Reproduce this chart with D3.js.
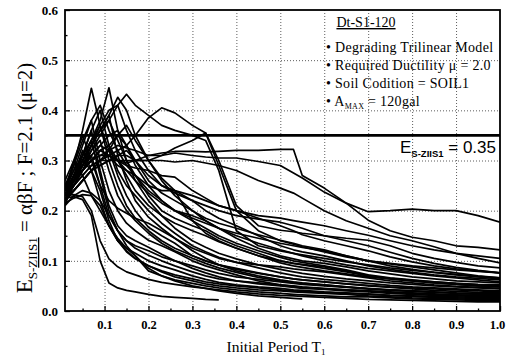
<!DOCTYPE html>
<html>
<head>
<meta charset="utf-8">
<script src="https://cdn.jsdelivr.net/npm/d3@7"></script>
<style>
  html, body { margin: 0; padding: 0; background: #fff; }
  #chart { width: 506px; height: 360px; overflow: hidden; }
  .gridLine line { stroke: #333; stroke-width: 0.8; stroke-dasharray: 1,2; }
  .gridLine path { display: none; }
  .axis path { display: none; }
  .axis line { stroke: #000; stroke-width: 1.3; }
  .axis text { font-family: "Liberation Serif", "Times New Roman", serif; fill: #000; }
  .spectrum { fill: none; stroke: #000; stroke-width: 1.7; stroke-linejoin: round; }
</style>
</head>
<body>
<div id="chart"></div>
<script>
// initial period T1 (s) at which every spectrum is sampled
const periods = [0.01, 0.03, 0.05, 0.07, 0.09, 0.11, 0.13, 0.15, 0.17, 0.2, 0.23, 0.26, 0.3, 0.33, 0.36,
  0.4, 0.45, 0.5, 0.53, 0.55, 0.6, 0.65, 0.7, 0.75, 0.8, 0.85, 0.9, 0.95, 1.0];

const _ = null; // record not computed at this period

// E_S-ZIIS1 for each ground motion record
const spectra = [
  [.225,.228,.222,.19,.10,.056,.046,.041,.038,.033,.029,.027,.025,.023,.022,_,_,_,_,_,_,_,_,_,_,_,_,_,_],
  [.23,.232,.228,.20,.14,.104,.088,.078,.072,.063,.057,.053,.048,.045,.042,.038,.034,.031,.030,.029,.027,.025,.023,.022,.021,.020,.019,.018,.018],
  [.215,.225,.232,.23,.21,.17,.14,.118,.104,.09,.08,.072,.064,.058,.054,.05,.046,.042,.04,.039,.037,.035,.033,.031,.03,.029,.028,.027,.026],
  [.24,.29,.36,.444,.37,.30,.25,.21,.185,.16,.14,.125,.11,.10,.092,.083,.075,.068,.064,.062,.058,.054,.051,.048,.046,.044,.042,.040,.038],
  [.23,.26,.30,.34,.38,.445,.36,.30,.26,.22,.19,.165,.14,.127,.115,.104,.092,.083,.078,.075,.069,.064,.060,.056,.053,.050,.048,.046,.044],
  [.22,.25,.28,.32,.35,.38,.41,.432,.41,.39,.37,.36,.35,.34,.28,.16,.13,.12,.115,.112,.105,.098,.092,.086,.081,.077,.073,.069,.066],
  [.23,.24,.26,.28,.30,.31,.32,.33,.35,.385,.405,.395,.37,.355,.29,.20,.16,.14,.133,.128,.118,.108,.10,.095,.09,.086,.082,.079,.076],
  [.24,.27,.30,.33,.36,.39,.426,.40,.35,.30,.26,.23,.20,.18,.165,.15,.135,.122,.115,.11,.10,.092,.085,.08,.075,.07,.066,.062,.058],
  [.24,.26,.28,.30,.31,.32,.33,.325,.32,.31,.31,.315,.31,.307,.305,.305,.298,.29,.275,.265,.237,.215,.198,.20,.203,.20,.20,.19,.177],
  [.23,.25,.27,.29,.30,.31,.30,.295,.30,.31,.315,.318,.318,.317,.318,.32,.32,.322,.322,.27,.245,.215,.181,.16,.147,.14,.13,.127,.122],
  [.25,.29,.34,.38,.41,.36,.32,.29,.27,.24,.22,.20,.18,.165,.15,.135,.12,.107,.10,.097,.09,.082,.072,.066,.062,.058,.055,.052,.05],
  [.23,.27,.31,.36,.40,.33,.28,.25,.23,.20,.175,.155,.13,.118,.107,.097,.086,.076,.071,.068,.063,.059,.055,.051,.048,.046,.044,.042,.04],
  [.22,.25,.29,.33,.36,.39,.31,.26,.22,.187,.165,.145,.12,.105,.092,.08,.07,.062,.058,.056,.052,.048,.045,.042,.04,.038,.036,.035,.034],
  [.24,.28,.33,.38,.30,.24,.20,.175,.16,.141,.13,.118,.10,.09,.082,.072,.06,.052,.049,.047,.044,.042,.04,.038,.036,.034,.032,.031,.03],
  [.23,.26,.30,.33,.37,.32,.27,.23,.20,.167,.15,.135,.11,.10,.092,.085,.076,.068,.064,.062,.058,.054,.05,.047,.044,.041,.039,.037,.036],
  [.22,.26,.31,.36,.28,.21,.17,.15,.14,.127,.113,.10,.085,.076,.068,.06,.054,.05,.047,.045,.043,.04,.038,.035,.033,.031,.03,.029,.028],
  [.24,.26,.28,.30,.32,.33,.35,.33,.30,.26,.235,.22,.20,.185,.175,.165,.152,.141,.135,.13,.122,.11,.10,.094,.088,.082,.076,.07,.066],
  [.23,.26,.29,.32,.34,.28,.23,.20,.18,.155,.135,.12,.105,.095,.086,.077,.067,.06,.057,.055,.052,.048,.044,.041,.039,.037,.035,.033,.032],
  [.24,.26,.28,.30,.32,.33,.30,.27,.24,.21,.19,.175,.16,.15,.138,.125,.11,.096,.09,.087,.08,.074,.068,.064,.06,.056,.053,.05,.048],
  [.23,.27,.32,.28,.22,.17,.14,.125,.115,.10,.09,.082,.07,.063,.057,.052,.048,.045,.042,.041,.038,.036,.034,.031,.029,.027,.026,.025,.024],
  [.24,.27,.29,.31,.25,.19,.16,.14,.125,.111,.10,.09,.078,.07,.064,.06,.056,.052,.05,.048,.045,.042,.04,.037,.035,.033,.032,.031,.03],
  [.22,.24,.26,.28,.29,.30,.31,.31,.30,.30,.31,.325,.34,.355,.30,.21,.17,.161,.158,.155,.15,.145,.141,.13,.115,.105,.097,.09,.086],
  [.23,.25,.27,.29,.30,.30,.30,.30,.30,.30,.30,.297,.30,.295,.29,.28,.26,.245,.235,.225,.20,.18,.165,.15,.14,.128,.115,.105,.096],
  [.24,.26,.28,.30,.31,.31,.30,.29,.285,.28,.27,.267,.24,.225,.21,.20,.19,.185,.18,.177,.17,.16,.151,.14,.13,.122,.115,.11,.105],
  [.22,.25,.28,.30,.32,.31,.29,.28,.27,.25,.24,.24,.22,.21,.20,.19,.183,.177,.17,.165,.15,.14,.13,.117,.105,.095,.087,.081,.076],
  [.23,.26,.29,.31,.33,.32,.30,.28,.26,.235,.215,.20,.185,.175,.165,.155,.145,.135,.13,.127,.12,.11,.10,.09,.083,.077,.072,.068,.064],
  [.24,.30,.35,.30,.25,.22,.205,.195,.185,.175,.16,.145,.125,.115,.105,.097,.092,.088,.084,.082,.078,.072,.066,.06,.056,.052,.049,.047,.045],
  [.21,.26,.30,.28,.24,.18,.14,.12,.105,.09,.078,.068,.06,.054,.05,.046,.042,.04,.038,.037,.035,.033,.03,.028,.026,.025,.024,.023,.022],
  [.23,.26,.29,.33,.36,.38,.34,.30,.27,.23,.20,.185,.17,.16,.145,.13,.115,.10,.095,.092,.085,.078,.07,.065,.061,.058,.055,.053,.052],
  [.24,.26,.28,.31,.33,.35,.36,.33,.29,.25,.22,.20,.19,.18,.165,.145,.125,.11,.104,.10,.095,.088,.08,.074,.068,.064,.06,.058,.056],
  [.22,.24,.26,.28,.29,.30,.31,.32,.30,.27,.25,.24,.23,.22,.21,.20,.185,.17,.16,.152,.14,.13,.12,.108,.098,.09,.084,.08,.076],
  [.23,.27,.31,.34,.27,.20,.16,.14,.13,.12,.108,.10,.09,.082,.075,.068,.063,.058,.055,.053,.05,.047,.044,.042,.04,.038,_,_,_],
  [.22,.24,.26,.28,.30,.32,.35,.37,.34,.30,.265,.24,.18,.155,.14,.125,.11,.10,.095,.093,.088,.08,.07,.064,.06,.056,.053,.05,.048],
  [.25,.28,.31,.34,.37,.40,.41,.36,.32,.28,.25,.235,.22,.20,.185,.17,.15,.13,.122,.118,.11,.10,.09,.083,.077,.072,.068,.065,.062],
  [.26,.30,.27,.23,.20,.17,.145,.125,.11,.08,.07,.062,.055,.05,.046,.042,.038,.035,.033,.032,.03,.028,.028,.026,.024,.023,.022,.021,.02],
  [.21,.23,.24,.235,.22,.19,.16,.13,.11,.085,.07,.06,.05,.045,.04,.035,.03,.027,.025,.024,_,_,_,_,_,_,_,_,_]
];

const xTicks = [0.1, 0.2, 0.3, 0.4, 0.5, 0.6, 0.7, 0.8, 0.9, 1.0];
const xMinorTicks = [0.05, 0.15, 0.25, 0.35, 0.45, 0.55, 0.65, 0.75, 0.85, 0.95];
const yTicks = [0.0, 0.1, 0.2, 0.3, 0.4, 0.5, 0.6];
const yMinorTicks = [0.05, 0.15, 0.25, 0.35, 0.45, 0.55];
const limitValue = 0.35;

const legendTitle = "Dt-S1-120";
const legendItems = ["Degrading Trilinear Model", "Required Ductility \u03bc = 2.0", "Soil Codition = SOIL1"];

const width = 506;
const height = 360;
const padding = { top: 10, right: 6, bottom: 49, left: 65 };
const serif = '"Liberation Serif", "Times New Roman", serif';
const sans = '"Liberation Sans", Arial, sans-serif';

let svg, xscale, yscale;

initSvg();
initScale();
drawGridLines();
drawSpectra();
drawAxis();
drawLabels();

function initSvg() {
  svg = d3.select("#chart")
    .append("svg")
    .attr("width", width)
    .attr("height", height);
}

function initScale() {
  xscale = d3.scaleLinear()
    .domain([0.01, 1.0])
    .range([padding.left, width - padding.right]);
  yscale = d3.scaleLinear()
    .domain([0, 0.6])
    .range([height - padding.bottom, padding.top]);   // reversed
}

function drawGridLines() {
  const plotH = yscale(0) - yscale(0.6);
  const plotW = xscale(1.0) - xscale(0.01);

  svg.append("g")
    .classed("gridLine", true)
    .attr("transform", "translate(0," + yscale(0) + ")")
    .call(d3.axisBottom(xscale).tickValues(xTicks.slice(0, -1)).tickSize(-plotH).tickFormat(""));

  svg.append("g")
    .classed("gridLine", true)
    .attr("transform", "translate(" + xscale(0.01) + ",0)")
    .call(d3.axisLeft(yscale).tickValues(yTicks.slice(1, -1)).tickSize(-plotW).tickFormat(""));
}

function drawSpectra() {
  svg.append("clipPath").attr("id", "plotClip")
    .append("rect")
    .attr("x", xscale(0.01)).attr("y", yscale(0.6))
    .attr("width", xscale(1.0) - xscale(0.01))
    .attr("height", yscale(0) - yscale(0.6));

  const line = d3.line()
    .x(d => xscale(d[0]))
    .y(d => yscale(d[1]));

  svg.append("g")
    .attr("clip-path", "url(#plotClip)")
    .selectAll("path")
    .data(spectra)
    .enter()
    .append("path")
    .attr("class", "spectrum")
    .attr("d", vals => line(periods.map((t, i) => [t, vals[i]]).filter(p => p[1] !== null)));

  // required level line
  svg.append("line")
    .attr("x1", xscale(0.01)).attr("x2", xscale(1.0))
    .attr("y1", yscale(limitValue)).attr("y2", yscale(limitValue))
    .attr("stroke", "#000")
    .attr("stroke-width", 2.6);
}

function drawAxis() {
  const x_axis = d3.axisBottom(xscale)
    .tickValues(xTicks)
    .tickSize(-5)
    .tickPadding(9)
    .tickFormat(d3.format(".1f"));
  const xg = svg.append("g")
    .attr("class", "axis")
    .attr("transform", "translate(0," + yscale(0) + ")")
    .call(x_axis);
  xg.selectAll("text")
    .style("font-size", "12.5px")
    .style("font-weight", "bold");
  // last label sits right on the page edge, pull it in a little
  xg.selectAll("text").filter(d => d === 1.0).attr("x", -3);

  svg.append("g")
    .attr("class", "axis")
    .attr("transform", "translate(0," + yscale(0) + ")")
    .call(d3.axisBottom(xscale).tickValues(xMinorTicks).tickSize(-2.5).tickFormat(""));

  const y_axis = d3.axisLeft(yscale)
    .tickValues(yTicks)
    .tickSize(-5)
    .tickPadding(7)
    .tickFormat(d3.format(".1f"));
  svg.append("g")
    .attr("class", "axis")
    .attr("transform", "translate(" + xscale(0.01) + ",0)")
    .call(y_axis)
    .selectAll("text")
    .style("font-size", "13px")
    .style("font-weight", "bold");

  svg.append("g")
    .attr("class", "axis")
    .attr("transform", "translate(" + xscale(0.01) + ",0)")
    .call(d3.axisLeft(yscale).tickValues(yMinorTicks).tickSize(-2.5).tickFormat(""));

  // frame
  svg.append("rect")
    .attr("x", xscale(0.01)).attr("y", yscale(0.6))
    .attr("width", xscale(1.0) - xscale(0.01))
    .attr("height", yscale(0) - yscale(0.6))
    .attr("fill", "none")
    .attr("stroke", "#000")
    .attr("stroke-width", 1.8);
}

function drawLabels() {
  // x title
  const xt = svg.append("text")
    .attr("x", 276).attr("y", 352)
    .attr("text-anchor", "middle")
    .style("font-family", serif)
    .style("font-size", "15.5px");
  xt.append("tspan").text("Initial Period T");
  xt.append("tspan").attr("dy", 3).style("font-size", "9px").text("1");

  // y title
  const yt = svg.append("text")
    .attr("transform", "translate(32,178) rotate(-90)")
    .attr("text-anchor", "middle")
    .style("font-family", serif)
    .style("font-size", "21px");
  yt.append("tspan").style("font-size", "23px").text("E");
  yt.append("tspan").attr("dy", 5).style("font-size", "13px").text("S-");
  yt.append("tspan").style("font-size", "13px").style("text-decoration", "underline").text("ZIIS1");
  yt.append("tspan").attr("dy", -5).text(" = \u03b1\u03b2F ; F=2.1 (\u03bc=2)");

  // legend block
  const lx = 326;
  svg.append("text")
    .attr("x", 366).attr("y", 27)
    .attr("text-anchor", "middle")
    .style("font-family", serif)
    .style("font-size", "14px")
    .style("text-decoration", "underline")
    .text(legendTitle);

  legendItems.forEach((item, i) => {
    svg.append("text")
      .attr("x", lx).attr("y", 52 + i * 18)
      .style("font-family", serif)
      .style("font-size", "14px")
      .style("letter-spacing", "0.3px")
      .text("\u2022 " + item);
  });

  const amax = svg.append("text")
    .attr("x", lx).attr("y", 52 + 3 * 18)
    .style("font-family", serif)
    .style("font-size", "14px")
    .style("letter-spacing", "0.3px");
  amax.append("tspan").text("\u2022 A");
  amax.append("tspan").attr("dy", 3).style("font-size", "8px").text("MAX");
  amax.append("tspan").attr("dy", -3).text(" = 120gal");

  // level label
  const el = svg.append("text")
    .attr("x", 496).attr("y", 153)
    .attr("text-anchor", "end")
    .style("font-family", sans)
    .style("font-size", "17px");
  el.append("tspan").text("E");
  el.append("tspan").attr("dy", 4).style("font-size", "9.5px").style("font-weight", "bold").text("S-ZIIS1");
  el.append("tspan").attr("dy", -4).text(" = 0.35");
}
</script>
</body>
</html>
